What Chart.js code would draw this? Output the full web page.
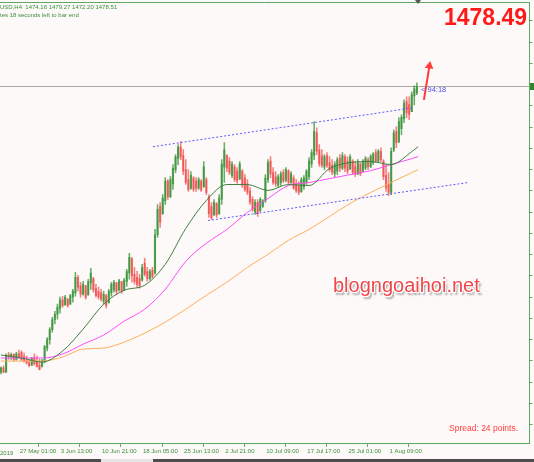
<!DOCTYPE html>
<html lang="en">
<head>
<meta charset="UTF-8" />
<title>XAUUSD H4</title>
<style>
  html, body { margin: 0; padding: 0; }
  body { width: 534px; height: 462px; background: #fdf9f8; position: relative; overflow: hidden;
         font-family: 'Liberation Sans', Arial, sans-serif; }
  #wrap { position: absolute; left: 0; top: 0; width: 534px; height: 462px; }
  .txt { position: absolute; white-space: nowrap; line-height: 1; }
  #info1 { left: 0; top: 4.2px; font-size: 6px; color: #3d8f3d; }
  #info2 { left: 0; top: 11.9px; font-size: 6px; color: #3d8f3d; }
  #year { left: 0; top: 449.5px; font-size: 6px; color: #3d8f3d; }
  #bigPrice { left: 444px; top: 5.5px; font-size: 23px; font-weight: bold; color: #ff1a1a; }
  #timer { left: 421px; top: 85.5px; font-size: 7.5px; color: #5050f0; }
  #wm { left: 333px; top: 274.8px; font-size: 20px; color: #f2474a;
        text-shadow: -1px -1px 0 #fff, 1px -1px 0 #fff, -1px 1px 0 #fff, 1px 1px 0 #fff, 2px 3px 2px rgba(0,0,0,0.4); }
  #spread { left: 449px; top: 424.3px; font-size: 8.5px; color: #ff3b3b; }
  #bidTag { position: absolute; left: 530px; top: 83px; width: 4px; height: 7px; background: #2a8a2a; }
  #shift { position: absolute; left: 415px; top: 0; width: 0; height: 0;
           border-left: 3.5px solid transparent; border-right: 3.5px solid transparent; border-top: 4px solid #555; }
  #tabs { position: absolute; left: 0; top: 459px; width: 534px; height: 3px; background: #4d4d4d; }
  #tab { position: absolute; left: 101px; top: 459px; width: 52px; height: 3px; background: #e6e6e6; }
</style>
</head>
<body>
<div id="wrap"><canvas id="chart"></canvas></div>
<div class="txt" id="info1">USD,H4&nbsp; 1474.16 1479.27 1472.20 1478.51</div>
<div class="txt" id="info2">tes 18 seconds left to bar end</div>
<div class="txt" id="year">2019</div>
<div class="txt" id="bigPrice">1478.49</div>
<div class="txt" id="timer">&lt; 94:18</div>
<div class="txt" id="wm">blogngoaihoi.net</div>
<div class="txt" id="spread">Spread: 24 points.</div>
<div id="bidTag"></div>
<div id="shift"></div>
<div id="tabs"></div>
<div id="tab"></div>

<script src="https://cdn.jsdelivr.net/npm/chart.js"></script>
<script>
// candles, one per two H4 bars
const opens = [
  1277, 1280, 1277, 1289, 1288, 1289.5, 1286, 1290, 1291, 1288,
  1285, 1283.5, 1282, 1287, 1284, 1282, 1281, 1285, 1294, 1300,
  1307, 1314, 1318, 1322, 1328, 1324.5, 1328.5, 1325, 1330, 1333,
  1344, 1338, 1332, 1338, 1331.5, 1340, 1343, 1336, 1334, 1333,
  1327, 1331, 1326, 1333, 1335, 1340, 1335, 1341, 1335, 1341,
  1347, 1357, 1346, 1344, 1343, 1342, 1354, 1348, 1343, 1349,
  1347, 1374, 1394, 1389, 1398, 1412, 1401, 1410, 1420, 1428,
  1436, 1430, 1420, 1413, 1407, 1414, 1412, 1407, 1412, 1408,
  1413, 1401, 1394, 1388, 1396, 1389, 1399, 1422, 1430, 1426,
  1416, 1422, 1419, 1413.5, 1419, 1414, 1410, 1405, 1399, 1390,
  1397, 1391, 1394, 1398, 1413, 1426, 1418, 1415, 1409, 1411,
  1418, 1412.5, 1419, 1411, 1414, 1410, 1409, 1404.5, 1408, 1411,
  1415, 1424, 1430, 1446, 1434, 1430, 1422, 1430, 1425, 1423,
  1417, 1419, 1428, 1421, 1429, 1426, 1420.5, 1426, 1422, 1417,
  1424, 1419, 1421, 1427, 1422, 1425, 1432, 1426, 1433, 1426,
  1416, 1410, 1404, 1434, 1447, 1440, 1449, 1456, 1468, 1466,
  1461, 1472, 1474.2
];
const highs = [
  1280.7, 1281.4, 1290, 1291, 1290.5, 1290, 1291, 1292.5, 1292, 1290.5,
  1288.5, 1286, 1287.5, 1290, 1288.5, 1286, 1286, 1296, 1301.5, 1308.5,
  1315.8, 1320, 1325, 1330, 1330.6, 1331.3, 1329.2, 1332, 1335.5, 1347.5,
  1345.4, 1340.5, 1341.2, 1338.4, 1342.6, 1350.3, 1344, 1339.1, 1337, 1335.5,
  1334.1, 1332, 1335.5, 1340.5, 1341.9, 1340.5, 1342.6, 1341.2, 1343.3, 1349.6,
  1360.9, 1358.1, 1351, 1348.2, 1346.1, 1353.2, 1357.4, 1351, 1349.6, 1351,
  1377.8, 1395.4, 1396.8, 1402.4, 1414.4, 1413, 1415.1, 1423.6, 1430.6, 1437.7,
  1439.8, 1434.1, 1427.1, 1420, 1418.6, 1415.1, 1414.4, 1414.4, 1413, 1425.7,
  1414.4, 1402.4, 1396.8, 1398.9, 1396.8, 1402.4, 1427.1, 1439.1, 1430.6, 1428.5,
  1425.7, 1423.6, 1421.5, 1425.7, 1420, 1416.5, 1413, 1407.4, 1401, 1398.9,
  1398.9, 1400.3, 1398.9, 1416.5, 1427.1, 1429.2, 1421.5, 1418.6, 1416.5, 1418.6,
  1420, 1421.5, 1420, 1418.6, 1415.8, 1413, 1411.6, 1414.4, 1415.8, 1420,
  1428.5, 1434.1, 1453.9, 1449.6, 1437.7, 1434.1, 1430.6, 1432, 1429.2, 1427.1,
  1425.7, 1428.5, 1430.6, 1432, 1430.6, 1429.2, 1430.6, 1427.1, 1425.7, 1427.1,
  1425, 1427.1, 1429.2, 1428.5, 1430.6, 1432, 1434.1, 1434.1, 1435.5, 1427.1,
  1423.6, 1417.9, 1435.5, 1448.2, 1450.3, 1456.7, 1458.8, 1469.3, 1471.5, 1471.5,
  1475, 1479.2, 1481.3
];
const lows = [
  1275.7, 1276.4, 1276.8, 1286, 1286, 1285, 1285.5, 1287.5, 1285, 1284,
  1282.7, 1280.7, 1281.8, 1282, 1280.5, 1278.5, 1280.5, 1283.5, 1292, 1296.8,
  1305.3, 1311, 1314.4, 1318.6, 1322.9, 1324.3, 1322.9, 1324.8, 1326.4, 1330.6,
  1334.1, 1329.9, 1331.3, 1328.5, 1331.3, 1335.5, 1333.4, 1329.9, 1328.5, 1327.1,
  1325, 1322.2, 1325.7, 1330.6, 1333.4, 1332, 1334.1, 1332.7, 1334.8, 1337.7,
  1342.6, 1340.5, 1339.1, 1337, 1336.3, 1341.2, 1344.7, 1341.2, 1341.9, 1343.3,
  1346.1, 1372.2, 1379.2, 1388.4, 1395.4, 1398.9, 1400.3, 1406, 1417.9, 1423.6,
  1427.1, 1416.5, 1409.5, 1404.6, 1406, 1404.6, 1404.6, 1406, 1404.6, 1407.4,
  1402.4, 1386.3, 1384.8, 1387.7, 1386.3, 1388.4, 1395.4, 1410.9, 1418.6, 1416.5,
  1414.4, 1411.6, 1410.2, 1413, 1407.4, 1404.6, 1402.4, 1395.4, 1390.5, 1388.4,
  1387, 1390.5, 1393.3, 1396.8, 1410.9, 1414.4, 1409.5, 1408.1, 1407.4, 1408.8,
  1410.9, 1411.6, 1409.5, 1410.2, 1406, 1403.9, 1402.4, 1403.9, 1406, 1409.5,
  1413, 1421.5, 1427.1, 1430.6, 1422.2, 1421.5, 1420, 1421.5, 1418.6, 1416.5,
  1415.1, 1416.5, 1418.6, 1420, 1418.6, 1417.2, 1420, 1416.5, 1415.1, 1416.5,
  1415.8, 1418.6, 1420, 1420, 1421.5, 1423.6, 1425, 1425.7, 1425.7, 1413,
  1404.6, 1401.7, 1402.4, 1432.7, 1435.5, 1439.1, 1444.7, 1453.2, 1456.7, 1455.3,
  1460.9, 1465.8, 1472.9
];
const closes = [
  1280, 1277, 1289, 1288, 1289.5, 1286, 1290, 1288, 1286, 1285,
  1283.5, 1281.5, 1287, 1283, 1281, 1279, 1285, 1295, 1300, 1307,
  1314, 1318, 1323, 1328, 1324, 1330, 1324, 1331, 1334, 1344,
  1337, 1332, 1339, 1330, 1341, 1347, 1335, 1331, 1330, 1328.5,
  1332, 1324, 1334, 1339, 1340.5, 1334, 1341.5, 1334, 1342, 1348,
  1358, 1345, 1341, 1339, 1338, 1351, 1346, 1343, 1348, 1344.5,
  1374, 1392, 1383, 1400, 1412, 1401, 1413, 1421, 1429, 1436,
  1429, 1419, 1411, 1406, 1416, 1406, 1407, 1413, 1405.5, 1422,
  1404, 1389, 1386, 1397, 1388, 1400, 1424, 1434, 1421, 1418,
  1424, 1413, 1412, 1424, 1409, 1406, 1404, 1397, 1392, 1397,
  1389, 1399, 1398, 1414, 1425, 1417, 1411, 1410, 1415, 1417,
  1412, 1420, 1411, 1417, 1407, 1405, 1404, 1413, 1414, 1419,
  1426, 1432, 1447, 1433, 1424, 1423, 1429, 1423, 1420, 1418,
  1424, 1427, 1421, 1430, 1421, 1419, 1429, 1418, 1417, 1425,
  1417, 1426, 1428, 1422, 1429.5, 1431, 1426, 1433, 1427, 1415,
  1407, 1404, 1433, 1446, 1439, 1454, 1457, 1467, 1460, 1459,
  1473, 1477, 1478.5
];

// moving averages, sampled every 16 bars
const maBars   = [0, 16, 32, 48, 64, 80, 96, 112, 128, 144, 160, 176, 192, 208, 224, 240, 256, 272, 288, 304, 320, 325];
const maFast   = [1289.1, 1287.0, 1284.1, 1291.9, 1307.4, 1325.0, 1334.8, 1338.4, 1353.2, 1378.5, 1398.2,
                  1409.5, 1409.5, 1405.3, 1409.5, 1408.8, 1420.8, 1425.0, 1425.7, 1423.6, 1432.7, 1436.2];
const maMid    = [1287.0, 1287.0, 1287.0, 1289.8, 1296.8, 1303.2, 1313.0, 1321.5, 1335.5, 1355.3, 1368.0,
                  1377.8, 1389.8, 1399.6, 1408.8, 1410.9, 1413.7, 1416.5, 1419.3, 1423.6, 1427.8, 1429.2];
const maSlow   = [1284.8, 1284.8, 1284.8, 1287.7, 1293.3, 1294.0, 1298.2, 1304.6, 1312.3, 1321.5, 1331.3,
                  1340.5, 1351.0, 1360.2, 1370.1, 1377.8, 1387.0, 1396.1, 1403.9, 1410.9, 1417.9, 1420.0];

// trend channel and arrow
const chanUpperBars = [118.4, 321.0];
const chanUpper     = [1436.2, 1463.7];
const chanLowerBars = [161.3, 363.8];
const chanLower     = [1384.1, 1410.9];
const arrowBars     = [329.5, 333.8];
const arrowPrices   = [1469.3, 1493.3];
const bid = 1478.49;

// axes
const xTickBars   = [13.5, 45.5, 77.5, 109.5, 141.5, 173.5, 205.5, 237.5, 269.5, 301.5];
const xTickLabels = ['27 May 01:00', '3 Jun 13:00', '10 Jun 21:00', '18 Jun 05:00', '25 Jun 13:00',
                     '2 Jul 21:00', '10 Jul 09:00', '17 Jul 17:00', '25 Jul 01:00', '1 Aug 09:00'];
const yTickPrices = [1240, 1255, 1270, 1285, 1300, 1315, 1330, 1345, 1360, 1375, 1390, 1405,
                     1420, 1435, 1450, 1465, 1480, 1495, 1510, 1525];

const UP = 'rgba(55,145,55,0.75)';
const DOWN = 'rgba(240,65,65,0.66)';
const FRAME = '#62a862';

const xAt = i => i * 2;   // two H4 bars per drawn candle
const candleColor = ctx => closes[ctx.dataIndex] >= opens[ctx.dataIndex] ? UP : DOWN;
const pts = (xs, ys) => xs.map((x, i) => ({ x: x, y: ys[i] }));

const frame = {
  id: 'frame',
  beforeDatasetsDraw(chart) {
    const { ctx, chartArea: a, scales: { y } } = chart;
    const py = Math.round(y.getPixelForValue(bid)) - 0.5;
    ctx.save();
    ctx.strokeStyle = '#a8a8a8';
    ctx.lineWidth = 1;
    ctx.beginPath(); ctx.moveTo(0, py); ctx.lineTo(a.right, py); ctx.stroke();
    ctx.restore();
  },
  afterDraw(chart) {
    const { ctx, chartArea: a } = chart;
    ctx.save();
    ctx.strokeStyle = FRAME;
    ctx.lineWidth = 1;
    ctx.beginPath(); ctx.moveTo(0, a.top + 0.5); ctx.lineTo(a.right, a.top + 0.5); ctx.stroke();
    ctx.restore();
  }
};

new Chart(document.getElementById('chart'), {
  type: 'bar',
  data: {
    datasets: [
      {
        type: 'line', order: 0, data: pts(arrowBars, arrowPrices),
        borderColor: '#ff3b3b', borderWidth: 2, pointStyle: 'triangle',
        pointRadius: [0, 5], pointRotation: 9, pointBackgroundColor: '#ff3b3b', pointBorderWidth: 0
      },
      {
        type: 'line', order: 1, data: pts(chanUpperBars, chanUpper),
        borderColor: '#5a5af5', borderWidth: 1, borderDash: [2, 2], pointRadius: 0
      },
      {
        type: 'line', order: 1, data: pts(chanLowerBars, chanLower),
        borderColor: '#5a5af5', borderWidth: 1, borderDash: [2, 2], pointRadius: 0
      },
      {
        type: 'line', order: 2, data: pts(maBars, maFast),
        borderColor: '#3f7f3f', borderWidth: 1, pointRadius: 0, cubicInterpolationMode: 'monotone'
      },
      {
        type: 'line', order: 2, data: pts(maBars, maMid),
        borderColor: '#ff4cff', borderWidth: 1, pointRadius: 0, cubicInterpolationMode: 'monotone'
      },
      {
        type: 'line', order: 2, data: pts(maBars, maSlow),
        borderColor: '#ffad5c', borderWidth: 1, pointRadius: 0, cubicInterpolationMode: 'monotone'
      },
      {
        order: 3, grouped: false, barThickness: 1.5, borderWidth: 0,
        data: opens.map((o, i) => ({ x: xAt(i), y: [Math.min(o, closes[i]), Math.max(o, closes[i])] })),
        backgroundColor: candleColor
      },
      {
        order: 4, grouped: false, barThickness: 0.9, borderWidth: 0,
        data: highs.map((h, i) => ({ x: xAt(i), y: [lows[i], h] })),
        backgroundColor: candleColor
      }
    ]
  },
  options: {
    responsive: true,
    maintainAspectRatio: false,
    animation: false,
    layout: { autoPadding: false, padding: { top: 2, left: 0, right: 1.5, bottom: 6 } },
    plugins: { legend: { display: false }, tooltip: { enabled: false } },
    scales: {
      x: {
        type: 'linear', min: -0.75, max: 411.75, offset: false,
        grid: { drawOnChartArea: false, color: FRAME, tickLength: 3 },
        border: { color: FRAME },
        afterBuildTicks: axis => { axis.ticks = xTickBars.map(v => ({ value: v })); },
        ticks: {
          autoSkip: false, maxRotation: 0, align: 'start', padding: 1, labelOffset: 1.5,
          color: '#3d8f3d', font: { family: 'Liberation Sans', size: 6 },
          callback: (v, i) => xTickLabels[i]
        }
      },
      y: {
        position: 'right', min: 1226.4, max: 1538.4,
        grid: { drawOnChartArea: false, color: FRAME, tickLength: 3 },
        border: { color: FRAME },
        afterBuildTicks: axis => { axis.ticks = yTickPrices.map(v => ({ value: v })); },
        ticks: { display: false }
      }
    }
  },
  plugins: [frame]
});
</script>
</body>
</html>
